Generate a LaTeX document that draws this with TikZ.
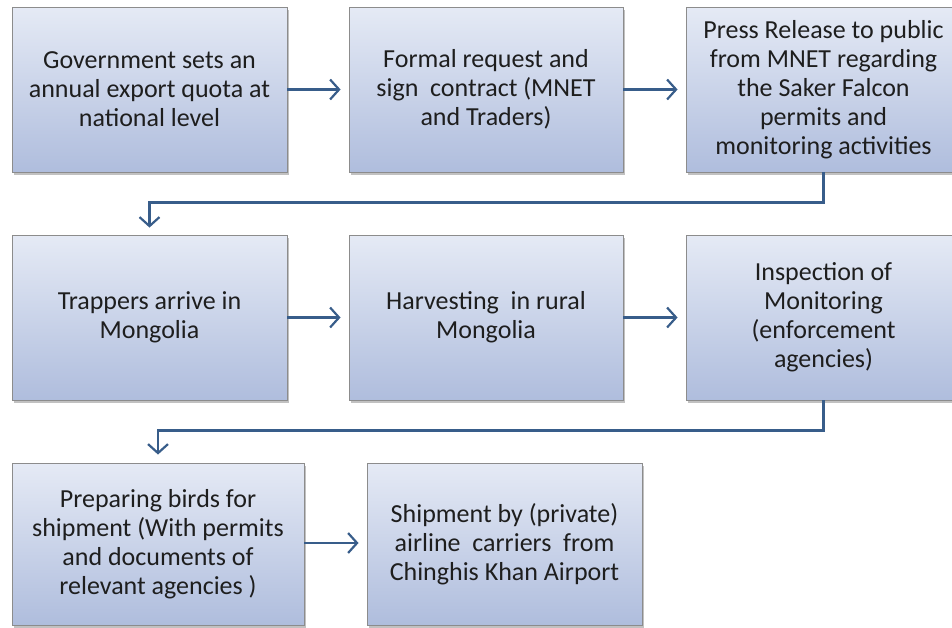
\documentclass[tikz,border=0pt]{standalone}
\usepackage{fontspec}
\setmainfont{Carlito}
\usetikzlibrary{arrows.meta,shadows}
\definecolor{boxtop}{HTML}{E5EAF5}
\definecolor{boxbot}{HTML}{AFBDDD}
\definecolor{boxline}{HTML}{8C8C8C}
\definecolor{arr}{HTML}{385D8A}
\definecolor{txt}{HTML}{1E1E1E}
\begin{document}
\begin{tikzpicture}[x=1pt,y=-1pt,
  stepbox/.style={draw=boxline, line width=0.9pt, top color=boxtop, bottom color=boxbot,
    minimum width=275pt, minimum height=165pt, inner sep=0pt, align=center, text=txt,
    font=\fontsize{26}{29}\selectfont,
    drop shadow={shadow xshift=2pt, shadow yshift=-2.5pt, opacity=0.35, fill=black!70}},
  link/.style={draw=arr, line width=2.2pt, -{Straight Barb[length=9pt,width=20pt]}, shorten >=8pt}
]
\useasboundingbox (0,0) rectangle (952,627);
\clip (0,0) rectangle (952,627);
\node[stepbox] (b1) at (149.5,89.5) {Government sets an\\annual export quota at\\national level};
\node[stepbox, minimum width=274pt] (b2) at (486,89.5) {Formal request and\\sign\ \ contract (MNET\\and Traders)};
\node[stepbox] (b3) at (823.5,89.5) {Press Release to public\\from MNET regarding\\the Saker Falcon\\permits and\\monitoring activities};
\node[stepbox] (b4) at (149.5,317.5) {Trappers arrive in\\Mongolia};
\node[stepbox, minimum width=274pt] (b5) at (486,317.5) {Harvesting\ \ in rural\\Mongolia};
\node[stepbox] (b6) at (823.5,317.5) {Inspection of\\Monitoring\\(enforcement\\agencies)};
\node[stepbox, minimum width=292pt, minimum height=162pt] (b7) at (158,544) {Preparing birds for\\shipment (With permits\\and documents of\\relevant agencies )};
\node[stepbox, minimum height=162pt] (b8) at (504.5,544) {Shipment by (private)\\airline\ \ carriers\ \ from\\Chinghis Khan Airport};
\draw[link] (b1) -- (b2);
\draw[link] (b2) -- (b3);
\draw[link] (b4) -- (b5);
\draw[link] (b5) -- (b6);
\draw[link] (b7.east |- 0,543) -- (b8.west |- 0,543);
\draw[link, shorten >=7pt] (b3.south) -- ++(0,30) -| (b4.north);
\draw[link] (b6.south) -- ++(0,30) -| (b7.north);
\end{tikzpicture}
\end{document}
